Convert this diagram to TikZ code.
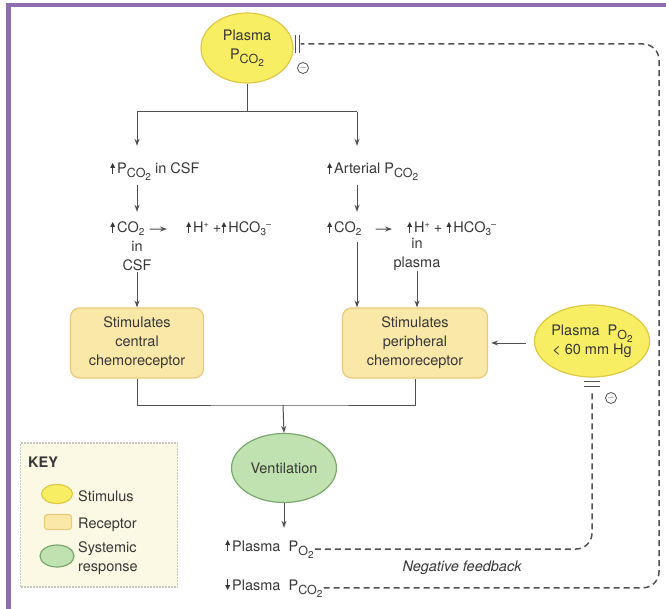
\documentclass[tikz,border=0pt]{standalone}
\usepackage{fontspec}
\setmainfont{TeX Gyre Heros}
\usetikzlibrary{shapes.geometric,arrows.meta}
\definecolor{frame}{RGB}{140,110,175}
\definecolor{ink}{RGB}{55,55,55}
\definecolor{wire}{RGB}{80,80,80}
\definecolor{stimfill}{RGB}{248,238,100}
\definecolor{stimline}{RGB}{222,200,70}
\definecolor{recfill}{RGB}{250,232,168}
\definecolor{recline}{RGB}{232,202,125}
\definecolor{respfill}{RGB}{192,226,176}
\definecolor{respline}{RGB}{120,168,108}
\definecolor{keyfill}{RGB}{251,249,227}
\definecolor{keyline}{RGB}{200,200,195}
\newcommand\upa{\tikz[baseline=0pt,x=1pt,y=1pt,sharp corners]{\draw[line width=.9pt] (2.5,0)--(2.5,6.5); \fill (0,6)--(2.5,11)--(5,6)--cycle;}\kern2pt}
\newcommand\dna{\tikz[baseline=0pt,x=1pt,y=1pt,sharp corners]{\draw[line width=.9pt] (2.5,11)--(2.5,4.5); \fill (0,5)--(2.5,0)--(5,5)--cycle;}\kern2pt}
\newcommand\sub[1]{\raisebox{-3pt}{\fontsize{10}{10}\selectfont #1}}
\newcommand\sups[1]{\raisebox{5pt}{\fontsize{9}{9}\selectfont #1}}
\newcommand\pcot{P\raisebox{-4pt}{\fontsize{12.5}{12.5}\selectfont CO\sub{2}}}
\newcommand\pot{P\raisebox{-4pt}{\fontsize{12.5}{12.5}\selectfont O\sub{2}}}
\begin{document}
\begin{tikzpicture}[x=1pt, y=-1pt, color=ink, font=\fontsize{14.5}{19}\selectfont,
    stim/.style={ellipse, draw=stimline, fill=stimfill, line width=1.2pt, inner sep=0pt, align=center},
    recep/.style={rectangle, rounded corners=9pt, draw=recline, fill=recfill, line width=1.2pt, align=center},
    resp/.style={ellipse, draw=respline, fill=respfill, line width=1.2pt, inner sep=0pt, align=center},
    lbl/.style={anchor=base west, inner sep=1pt},
    wireline/.style={draw=wire, line width=1pt},
    arr/.style={draw=wire, line width=1pt, -{Stealth[length=7pt,width=5pt]}},
    fb/.style={draw=wire, line width=1.5pt, dash pattern=on 6pt off 4pt, rounded corners=16pt},
    minus/.style={circle, draw=wire, line width=.8pt, inner sep=0pt, minimum size=11pt, font=\small}]
    \useasboundingbox (0,0) rectangle (666,609);
    \fill[frame] (6,3) rectangle (666,7);
    \fill[frame] (6,3) rectangle (11,609);

    \node[stim, minimum width=92pt, minimum height=70pt] (pco) at (247,48) {Plasma\\\pcot};
    \coordinate (lx) at (137,112);
    \coordinate (rx) at (357,112);
    \node[lbl] (pcsf) at (109,174) {\upa\pcot\ in CSF};
    \node[lbl] (art) at (326,174) {\upa Arterial \pcot};
    \node[lbl] (co2l) at (109,233) {\upa CO\sub{2}};
    \node[lbl] (hl) at (185,233) {\upa H\sups{+} +\upa HCO\sub{3}\sups{--}};
    \node[align=center, inner sep=1pt] (inl) at (137,256) {in\\CSF};
    \node[lbl] (co2r) at (326,233) {\upa CO\sub{2}};
    \node[lbl] (hr) at (406,233) {\upa H\sups{+} + \upa HCO\sub{3}\sups{--}};
    \node[align=center, inner sep=1pt] (inr) at (417,254) {in\\plasma};

    \node[recep, minimum width=133pt, minimum height=70pt] (cen) at (137,343) {Stimulates\\central\\chemoreceptor};
    \node[recep, minimum width=145pt, minimum height=70pt] (per) at (415,343) {Stimulates\\peripheral\\chemoreceptor};
    \node[stim, minimum width=113pt, minimum height=72pt] (po2) at (592,341) {Plasma\ \ \pot\\< 60 mm Hg};
    \coordinate (jn) at (283,405);
    \node[resp, minimum width=105pt, minimum height=69pt] (vent) at (284,468) {Ventilation};
    \node[lbl] (upo) at (224,551) {\upa Plasma\ \ \pot};
    \node[lbl] (dpco) at (224,590) {\dna Plasma\ \ \pcot};
    \node[font=\fontsize{14.5}{19}\selectfont\itshape] (neg) at (462,568) {Negative feedback};
    \coordinate (fbr) at (659,300);
    \coordinate (inh) at ([xshift=7pt,yshift=4pt]pco.east);
    \node[minus] (m1) at (303,68) {$-$};
    \node[minus] (m2) at (611,398) {$-$};

    \draw[wireline] (pco.south) -- (pco.south |- lx);
    \draw[wireline] (lx) -- (rx);
    \draw[arr, shorten >=16pt] (lx) -- (pcsf.north -| lx);
    \draw[arr, shorten >=16pt] (rx) -- (art.north -| rx);
    \draw[arr, shorten <=3pt, shorten >=9pt] (pcsf.south -| lx) -- (co2l.north -| lx);
    \draw[arr, shorten <=3pt, shorten >=9pt] (art.south -| rx) -- (co2r.north -| rx);
    \draw[arr, shorten <=4pt, shorten >=18pt] (co2l) -- (hl);
    \draw[arr, shorten <=13pt, shorten >=14pt] (co2r) -- (hr);
    \draw[arr] (inl.south) -- (cen.north);
    \draw[arr, shorten <=5pt] (co2r.south -| rx) -- (per.north -| rx);
    \draw[arr] (inr.south) -- (per.north -| inr);
    \draw[arr, shorten <=8pt, shorten >=3pt] (per.east -| po2.west) -- (per.east);
    \draw[wireline] (cen.south) |- (jn) -| (per.south);
    \draw[arr] (jn) -- (vent.north);
    \draw[arr, shorten >=11pt] (vent.south) -- (vent.south |- upo.north);

    \draw[wireline, line width=1.3pt] ([xshift=-5pt,yshift=9pt]inh) -- ([xshift=-5pt,yshift=-9pt]inh);
    \draw[wireline, line width=1.3pt] ([xshift=-1pt,yshift=9pt]inh) -- ([xshift=-1pt,yshift=-9pt]inh);
    \draw[fb] (dpco.east) -- (dpco.east -| fbr) -- (fbr |- inh) -- (inh);
    \draw[wireline, line width=1.3pt] ([xshift=-8pt,yshift=-4pt]po2.south) -- ([xshift=8pt,yshift=-4pt]po2.south);
    \draw[wireline, line width=1.3pt] ([xshift=-8pt,yshift=-9pt]po2.south) -- ([xshift=8pt,yshift=-9pt]po2.south);
    \draw[fb] (upo.east) -| ([yshift=-12pt]po2.south);

    \node[draw=keyline, fill=keyfill, line width=1.5pt, dash pattern=on 2pt off 1pt, minimum width=157pt, minimum height=144pt] (key) at (99,515) {};
    \node[lbl, font=\fontsize{14.5}{19}\selectfont\bfseries] (keyt) at (27,467) {KEY};
    \node[stim, minimum width=31pt, minimum height=19pt] (ks) at (57,494) {};
    \node[lbl] (kst) at (77,501) {Stimulus};
    \node[recep, rounded corners=3pt, minimum width=27pt, minimum height=15pt] (kr) at (58,522) {};
    \node[lbl] (krc) at (77,528) {Receptor};
    \node[resp, minimum width=34pt, minimum height=22pt] (kp) at (57,556) {};
    \node[anchor=west, inner sep=1pt, align=left] (ksy) at (77,558) {Systemic\\response};
\end{tikzpicture}
\end{document}
